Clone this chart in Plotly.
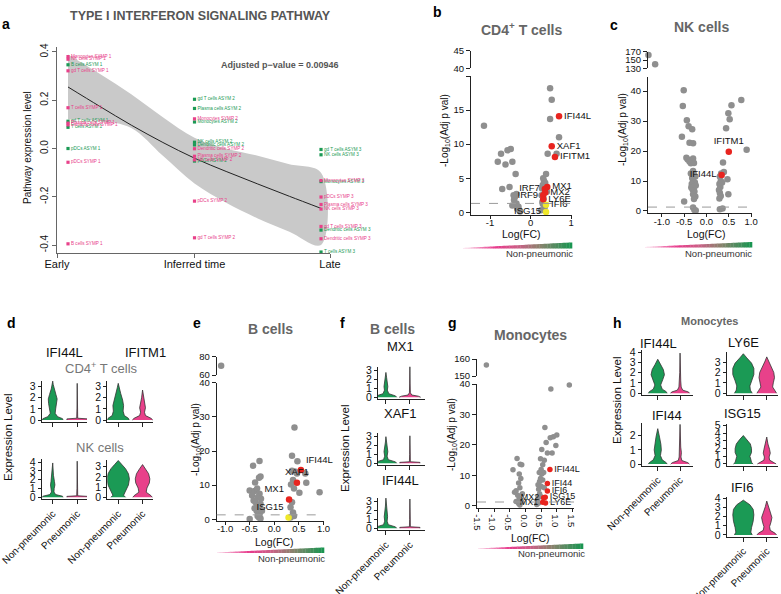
import plotly.graph_objects as go

W, H = 781, 594
GREEN = "#1b9a55"
PINK = "#e8418a"
GRAY_PT = "#8f8f8f"
RED_PT = "#e8241f"
YEL_PT = "#efe82a"
TITLE_GRAY = "#666666"
FONT = "Liberation Sans, Arial, Helvetica, sans-serif"

# ---------------- panel a data ----------------
a_time_ticks = ["Early", "Inferred time", "Late"]
a_asym_cells = ["Dendritic cells ASYM 1", "Monocytes ASYM 1", "NK cells ASYM 1", "Plasma cells ASYM 1",
                "B cells ASYM 1", "gd T cells ASYM 1", "T cells ASYM 1", "pDCs ASYM 1",
                "gd T cells ASYM 2", "Plasma cells ASYM 2", "Monocytes ASYM 2", "NK cells ASYM 2",
                "Dendritic cells ASYM 2", "pDCs ASYM 2", "B cells ASYM 2", "T cells ASYM 2",
                "gd T cells ASYM 3", "NK cells ASYM 3", "Monocytes ASYM 3", "Dendritic cells ASYM 3",
                "T cells ASYM 3", "B cells ASYM 3"]
a_asym_time = [1, 1, 1, 1, 1, 1, 1, 1, 2, 2, 2, 2, 2, 2, 2, 2, 3, 3, 3, 3, 3, 3]
a_asym_value = [0.598, 0.468, 0.454, 0.425, 0.347, 0.113, 0.088, 0.0,
                0.204, 0.166, 0.11, 0.026, 0.015, -0.052, -0.502, -0.547,
                -0.004, -0.026, -0.137, -0.338, -0.429, -0.534]
a_symp_cells = ["Monocytes SYMP 1", "NK cells SYMP 1", "gd T cells SYMP 1", "T cells SYMP 1",
                "Plasma cells SYMP 1", "Dendritic cells SYMP 1", "pDCs SYMP 1", "B cells SYMP 1",
                "Monocytes SYMP 2", "Dendritic cells SYMP 2", "Plasma cells SYMP 2", "NK cells SYMP 2",
                "pDCs SYMP 2", "gd T cells SYMP 2", "T cells SYMP 2", "B cells SYMP 2",
                "Monocytes SYMP 3", "pDCs SYMP 3", "Plasma cells SYMP 3", "NK cells SYMP 3",
                "gd T cells SYMP 3", "Dendritic cells SYMP 3", "T cells SYMP 3", "B cells SYMP 3"]
a_symp_time = [1, 1, 1, 1, 1, 1, 1, 1, 2, 2, 2, 2, 2, 2, 2, 2, 3, 3, 3, 3, 3, 3, 3, 3]
a_symp_value = [0.381, 0.37, 0.322, 0.169, 0.105, 0.098, -0.057, -0.395,
                0.123, -0.001, -0.032, -0.047, -0.218, -0.37, -0.585, -0.617,
                -0.133, -0.201, -0.232, -0.251, -0.323, -0.374, -0.508, -0.638]
fit_time = [1, 1.25, 1.5, 1.75, 2, 2.25, 2.5, 2.75, 3]
fit_mean = [0.255, 0.175, 0.097, 0.025, -0.04, -0.095, -0.147, -0.198, -0.248]
fit_upper = [0.39, 0.31, 0.225, 0.13, 0.045, 0.0, -0.03, -0.065, -0.10]
fit_lower = [0.12, 0.115, 0.085, -0.03, -0.145, -0.225, -0.29, -0.345, -0.40]
a_pvalue_text = "Adjusted p\u2212value = 0.00946"

# ---------------- panel b (CD4+ T cells) ----------------
b_gray_fc = [0.48, 0.52, 0.48, 0.70, 0.64, 0.42, -1.15, -0.49, -0.57, -0.73, -0.81, -0.45, -0.62, -0.37,
             -0.70, -0.52, -0.35, -0.39, -0.41, -0.35, -0.30, -0.28, -0.26, 0.38, 0.31, 0.33, 0.36, 0.30,
             0.28, 0.40, 0.27, 0.32, 0.29, 0.35, -0.45, -0.42, -0.33, 0.26, 0.30]
b_gray_p = [18.2, 16.5, 13.7, 11.0, 8.6, 8.6, 12.7, 9.3, 9.1, 8.6, 7.4, 7.4, 7.0, 5.6,
            3.4, 3.7, 2.7, 2.2, 1.8, 1.3, 0.8, 0.3, 0.1, 5.6, 5.0, 4.6, 4.3, 4.0,
            3.5, 3.0, 2.5, 2.0, 1.5, 0.8, 1.0, 2.5, 0.5, 0.3, 1.2]
b_top_fc = [-1.52]
b_top_p = [43.8]
b_red_genes = ["IFI44L", "XAF1", "IFITM1", "MX1", "IRF7", "MX2", "IRF9", "LY6E"]
b_red_fc = [0.70, 0.52, 0.60, 0.41, 0.35, 0.36, 0.31, 0.31]
b_red_p = [14.1, 9.7, 8.1, 3.7, 3.4, 2.9, 2.5, 1.9]
b_red_pos = ["middle right", "middle right", "middle right", "middle right", "middle left",
             "middle right", "middle left", "middle right"]
b_yel_genes = ["IFI6", "ISG15"]
b_yel_fc = [0.38, 0.38]
b_yel_p = [1.1, 0.05]
b_yel_pos = ["middle right", "middle left"]

# ---------------- panel c (NK cells) ----------------
c_gray_fc = [-0.51, -0.53, -0.44, -0.40, -0.32, -0.55, -0.38, -0.30, -0.45, -0.42, -0.38, -0.33, -0.30,
             -0.35, -0.28, -0.30, -0.28, -0.32, -0.30, -0.26, -0.33, -0.28, -0.31, -0.27, -0.30, -0.25,
             -0.28, -0.50, -0.30, -0.27, -0.24, -0.35, -0.25, -0.34, -0.24,
             0.78, 0.56, 0.49, 0.52, 0.44, 0.90, 0.37, 0.39, 0.47, 0.49, 0.30, 0.36, 0.30, 0.32, 0.29,
             0.31, 0.28, 0.30, 0.32, 0.29, 0.33, 0.35]
c_gray_p = [40.3, 35.0, 30.3, 28.3, 27.3, 24.8, 22.8, 22.6, 17.8, 17.2, 16.5, 16.8, 17.5,
            15.9, 16.0, 13.3, 12.2, 11.0, 10.0, 9.5, 9.0, 8.0, 7.2, 6.5, 5.6, 4.8,
            4.0, 3.2, 1.2, 0.3, 0.2, 12.5, 11.5, 7.8, 8.5,
            37.0, 35.3, 32.6, 30.6, 27.6, 20.4, 16.2, 13.0, 10.6, 5.6, 0.6, 0.8, 11.5, 10.0, 9.0,
            8.0, 7.0, 6.0, 5.0, 4.2, 12.5, 9.5]
c_top_fc = [-1.30, -1.15]
c_top_p = [162, 140]
c_red_genes = ["IFITM1", "IFI44L"]
c_red_fc = [0.50, 0.34]
c_red_p = [19.8, 12.0]
c_red_pos = ["top center", "middle left"]

# ---------------- panel e (B cells) ----------------
e_gray_fc = [0.41, 0.36, 0.47, 0.36, 0.42, 0.46, 0.63, 0.65, 0.51, 0.92, 0.38, 0.34, 0.40, 0.36, 0.33,
             0.38, 0.40, 0.33, -0.30, -0.43, -0.28, -0.31, -0.39, -0.50, -0.40, -0.35, -0.45, -0.30,
             -0.33, -0.42, -0.38, -0.28, -0.35, -0.32, -0.30, -0.36, -0.33, -0.30, -0.34, -0.31, -0.28,
             -0.50, -0.40, -0.27, -0.25]
e_gray_p = [26.9, 18.6, 17.0, 14.2, 14.0, 13.4, 13.4, 10.7, 7.8, 7.9, 11.5, 10.2, 9.0, 5.0, 3.5,
            2.0, 1.0, 0.5, 17.1, 15.7, 12.5, 12.2, 10.8, 8.4, 8.3, 9.0, 7.0, 7.5,
            6.5, 5.5, 5.0, 4.5, 4.0, 3.5, 3.0, 2.5, 2.0, 1.5, 1.0, 0.5, 0.2,
            0.1, 3.2, 6.0, 2.5]
e_top_fc = [-1.08]
e_top_p = [70]
e_red_genes = ["IFI44L", "XAF1", "MX1"]
e_red_fc = [0.54, 0.46, 0.30]
e_red_p = [14.4, 10.7, 5.8]
e_red_pos = ["top right", "top center", "top left"]
e_yel_genes = ["ISG15"]
e_yel_fc = [0.29]
e_yel_p = [0.5]
e_yel_pos = ["top left"]

# ---------------- panel g (Monocytes) ----------------
g_gray_fc = [1.40, 0.81, 0.62, 1.0, 0.89, 0.79, 0.66, 0.97, 0.70, 0.85, 0.6, 0.55, 0.5, 0.52, 0.48, 0.45,
             0.5, 0.42, 0.45, 0.4, 0.38, 0.42, 0.36, 0.58, 0.55, 0.6, 0.52, 0.48, 0.44, 0.5, 0.4,
             -0.27, -0.17, -0.12, -0.40, -0.2, -0.15, -0.22, -0.18, -0.3, -0.35, -0.25, -0.2, -0.15,
             -0.3, -0.22, -0.18, -0.1, -0.12]
g_gray_p = [39.7, 38.4, 25.7, 23.3, 22.7, 22.4, 20.8, 19.8, 17.4, 17.4, 15.0, 13.5, 12.0, 10.5, 9.0, 8.0,
            6.5, 5.5, 4.0, 3.0, 2.0, 1.0, 0.5, 11.0, 8.5, 6.0, 18.5, 15.5, 11.0, 3.0, 7.0,
            15.6, 13.7, 13.5, 11.9, 10.5, 9.0, 7.5, 6.0, 5.0, 4.5, 3.5, 2.5, 2.0,
            1.5, 0.8, 0.3, 4.0, 1.2]
g_top_fc = [-1.25]
g_top_p = [156.5]
g_red_genes = ["IFI44L", "IFI44", "IFI6", "ISG15", "MX2", "MX1", "LY6E"]
g_red_fc = [0.78, 0.70, 0.70, 0.63, 0.58, 0.55, 0.64]
g_red_p = [12.0, 7.4, 4.9, 2.9, 2.7, 1.2, 1.0]
g_red_pos = ["middle right", "middle right", "middle right", "middle right", "middle left",
             "middle left", "middle right"]

# ---------------- violin profiles: (expression level, half width) ----------------
groups = ["Non-pneumonic", "Pneumonic"]
thin_p33 = [(0, 0.42), (0.1, 0.42), (0.16, 0.02), (1.0, 0.01), (3.3, 0)]
thin_p41 = [(0, 0.42), (0.1, 0.42), (0.16, 0.02), (1.0, 0.01), (4.1, 0)]
d_cd4_ifi44l = [[(0, 0.42), (0.12, 0.4), (0.3, 0.2), (0.6, 0.1), (1.0, 0.12), (1.5, 0.17), (1.9, 0.18),
                 (2.3, 0.13), (2.8, 0.06), (3.2, 0.02), (3.5, 0)], thin_p33]
d_cd4_ifitm1 = [[(0, 0.45), (0.15, 0.42), (0.4, 0.25), (0.8, 0.2), (1.3, 0.22), (1.8, 0.18), (2.4, 0.1),
                 (2.9, 0.04), (3.3, 0)],
                [(0, 0.42), (0.15, 0.35), (0.4, 0.12), (0.7, 0.08), (1.1, 0.12), (1.5, 0.09), (2.0, 0.04),
                 (2.7, 0)]]
d_nk_ifi44l = [[(0, 0.42), (0.12, 0.4), (0.3, 0.12), (0.6, 0.05), (1.0, 0.06), (1.4, 0.09), (1.8, 0.07),
                (2.5, 0.03), (3.9, 0)], thin_p41]
d_nk_ifitm1 = [[(0, 0.3), (0.2, 0.22), (0.6, 0.3), (1.2, 0.42), (1.8, 0.46), (2.3, 0.42), (2.8, 0.3),
                (3.2, 0.15), (3.6, 0)],
               [(0, 0.4), (0.15, 0.35), (0.5, 0.15), (0.9, 0.18), (1.4, 0.28), (1.8, 0.3), (2.3, 0.25),
                (2.8, 0.12), (3.2, 0)]]
f_mx1 = [[(0, 0.45), (0.15, 0.4), (0.4, 0.12), (0.8, 0.06), (1.2, 0.08), (1.6, 0.07), (2.2, 0.03), (2.8, 0)],
         [(0, 0.45), (0.12, 0.35), (0.25, 0.08), (0.5, 0.02), (1.5, 0.01), (3.5, 0)]]
f_xaf1 = [[(0, 0.45), (0.15, 0.4), (0.4, 0.1), (0.8, 0.05), (1.3, 0.08), (1.8, 0.05), (2.4, 0.02), (3.0, 0)],
          [(0, 0.42), (0.1, 0.42), (0.16, 0.02), (1.0, 0.01), (3.1, 0)]]
f_ifi44l = [[(0, 0.45), (0.15, 0.4), (0.4, 0.1), (0.8, 0.05), (1.3, 0.07), (1.8, 0.06), (2.5, 0.02), (3.4, 0)],
            [(0, 0.42), (0.1, 0.42), (0.16, 0.02), (1.0, 0.01), (3.3, 0)]]
h_ifi44l = [[(0, 0.42), (0.15, 0.38), (0.4, 0.2), (0.8, 0.13), (1.3, 0.22), (1.8, 0.3), (2.3, 0.25),
             (2.8, 0.12), (3.3, 0)],
            [(0, 0.42), (0.12, 0.38), (0.3, 0.12), (0.6, 0.05), (1.2, 0.03), (2.0, 0.015), (3.9, 0)]]
h_ifi44 = [[(0, 0.42), (0.1, 0.38), (0.3, 0.2), (0.6, 0.12), (1.0, 0.16), (1.4, 0.14), (1.9, 0.08), (2.5, 0)],
           [(0, 0.42), (0.1, 0.35), (0.25, 0.08), (0.5, 0.04), (0.8, 0.06), (1.2, 0.03), (2.8, 0)]]
h_ly6e = [[(0, 0.38), (0.3, 0.3), (0.7, 0.28), (1.2, 0.35), (1.8, 0.45), (2.4, 0.45), (2.9, 0.35),
           (3.4, 0.15), (3.8, 0)],
          [(0, 0.42), (0.25, 0.35), (0.6, 0.25), (1.0, 0.28), (1.5, 0.33), (2.0, 0.3), (2.6, 0.18),
           (3.1, 0.07), (3.5, 0)]]
h_isg15 = [[(0, 0.42), (0.2, 0.35), (0.6, 0.32), (1.0, 0.28), (1.5, 0.35), (2.0, 0.35), (2.6, 0.3),
            (3.2, 0.15), (3.7, 0)],
           [(0, 0.4), (0.2, 0.3), (0.5, 0.12), (0.9, 0.1), (1.4, 0.15), (1.9, 0.12), (2.6, 0.05), (3.5, 0)]]
h_ifi6 = [[(0, 0.38), (0.3, 0.32), (0.8, 0.35), (1.5, 0.42), (2.2, 0.45), (2.8, 0.42), (3.3, 0.28), (3.8, 0)],
          [(0, 0.42), (0.2, 0.35), (0.5, 0.15), (0.9, 0.12), (1.4, 0.18), (1.9, 0.22), (2.5, 0.15),
           (3.1, 0.06), (3.7, 0)]]

# =====================================================================
layout = dict(width=W, height=H, margin=dict(l=0, r=0, t=0, b=0, pad=0, autoexpand=False),
              paper_bgcolor="white", plot_bgcolor="rgba(0,0,0,0)", showlegend=False,
              font=dict(family=FONT, color="#111", size=10))
shapes, annotations, traces = [], [], []
_n = [0]


def add_axes(xpx, ypx, xr, yr, xkw=None, ykw=None):
    _n[0] += 1
    s = "" if _n[0] == 1 else str(_n[0])
    base = dict(showgrid=False, zeroline=False, showline=True, linecolor="#222", linewidth=1,
                ticks="outside", ticklen=4, tickcolor="#222", tickwidth=1, automargin=False,
                ticklabeloverflow="allow",
                tickfont=dict(size=9.5, color="#111", family=FONT), fixedrange=True)
    xa = dict(base, domain=[xpx[0] / W, xpx[1] / W], range=xr, anchor="y" + s)
    ya = dict(base, domain=[1 - ypx[1] / H, 1 - ypx[0] / H], range=yr, anchor="x" + s)
    if xkw:
        xa.update(xkw)
    if ykw:
        ya.update(ykw)
    layout["xaxis" + s] = xa
    layout["yaxis" + s] = ya
    return "x" + s, "y" + s


def text(x, y, s, size=10, color="#111", bold=False, angle=0, xanchor="center", yanchor="middle"):
    if bold:
        s = "<b>" + s + "</b>"
    annotations.append(dict(x=x / W, y=1 - y / H, xref="paper", yref="paper", text=s, showarrow=False,
                            font=dict(size=size, color=color, family=FONT), textangle=angle,
                            xanchor=xanchor, yanchor=yanchor))


# ---------------- panel a ----------------
xa, ya = add_axes((57, 330), (47, 253), [0.913, 3.071], [-0.433, 0.4207],
                  xkw=dict(tickvals=[0.913, 2.0, 3.071], ticktext=a_time_ticks, tickfont=dict(size=11),
                           linecolor="#666", tickcolor="#666", ticklabelstandoff=-3),
                  ykw=dict(tickvals=[-0.4, -0.2, 0, 0.2, 0.4], ticktext=["-0.4", "-0.2", "0.0", "0.2", "0.4"],
                           tickangle=-90, tickfont=dict(size=10), linecolor="#666", tickcolor="#666"))
traces.append(go.Scatter(x=fit_time + fit_time[::-1], y=fit_upper + fit_lower[::-1], xaxis=xa, yaxis=ya,
                         fill="toself", fillcolor="#c9c9c9", line=dict(width=0, shape="spline"),
                         mode="lines", hoverinfo="skip"))
traces.append(go.Scatter(x=fit_time, y=fit_mean, xaxis=xa, yaxis=ya, mode="lines",
                         line=dict(color="#222", width=1, shape="spline")))
traces.append(go.Scatter(x=a_asym_time, y=a_asym_value, text=a_asym_cells, xaxis=xa, yaxis=ya,
                         mode="markers+text", textposition="middle right", cliponaxis=False,
                         marker=dict(color=GREEN, size=3.2, symbol="square"),
                         textfont=dict(size=4.6, color=GREEN, family=FONT)))
traces.append(go.Scatter(x=a_symp_time, y=a_symp_value, text=a_symp_cells, xaxis=xa, yaxis=ya,
                         mode="markers+text", textposition="middle right", cliponaxis=False,
                         marker=dict(color=PINK, size=3.2, symbol="square"),
                         textfont=dict(size=4.6, color=PINK, family=FONT)))
text(0, 24, "a", 14, "#000", bold=True, xanchor="left")
text(68, 16, "TYPE I INTERFERON SIGNALING PATHWAY", 12.5, "#555", bold=True, xanchor="left")
text(280, 65, a_pvalue_text, 9, "#555", bold=True)
text(27, 148, "Pathway expression level", 10, "#111", angle=-90)


# ---------------- volcano helper ----------------
def gradient_bar(x0, x1, ybot, hmax):
    stops = [(0.0, (250, 215, 232)), (0.3, (232, 58, 140)), (0.5, (205, 95, 135)),
             (0.7, (140, 130, 110)), (1.0, (22, 150, 80))]
    n = 40
    for i in range(n):
        t = (i + 0.5) / n
        for j in range(len(stops) - 1):
            if stops[j][0] <= t <= stops[j + 1][0]:
                u = (t - stops[j][0]) / (stops[j + 1][0] - stops[j][0])
                c = tuple(int(stops[j][1][k] + u * (stops[j + 1][1][k] - stops[j][1][k])) for k in range(3))
                break
        xa0 = x0 + (x1 - x0) * i / n
        xa1 = x0 + (x1 - x0) * (i + 1) / n + 0.3
        h0 = 0.6 + hmax * i / n
        h1 = 0.6 + hmax * (i + 1) / n
        path = "M {:.5f},{:.5f} L {:.5f},{:.5f} L {:.5f},{:.5f} L {:.5f},{:.5f} Z".format(
            xa0 / W, 1 - ybot / H, xa1 / W, 1 - ybot / H, xa1 / W, 1 - (ybot - h1) / H, xa0 / W,
            1 - (ybot - h0) / H)
        shapes.append(dict(type="path", path=path, xref="paper", yref="paper", fillcolor="rgb(%d,%d,%d)" % c,
                           line=dict(width=0), layer="above"))


def volcano(xpx, low_px, up_px, xr, low_r, up_r, xt, low_t, up_t, gray, top, reds, yels, msize, lsize):
    xl, yl = add_axes(xpx, low_px, xr, low_r,
                      xkw=dict(tickvals=xt[0], ticktext=xt[1], ticklen=3, ticklabelstandoff=-4),
                      ykw=dict(tickvals=low_t[0], ticktext=low_t[1]))
    xu, yu = add_axes(xpx, up_px, xr, up_r, xkw=dict(visible=False),
                      ykw=dict(tickvals=up_t[0], ticktext=up_t[1]))
    shapes.append(dict(type="line", xref=xl + " domain", yref=yl, x0=0, x1=1, y0=1.3, y1=1.3,
                       line=dict(color="#9a9a9a", width=1, dash="dash")))
    traces.append(go.Scatter(x=gray[0], y=gray[1], xaxis=xl, yaxis=yl, mode="markers", cliponaxis=False,
                             marker=dict(color=GRAY_PT, size=msize)))
    traces.append(go.Scatter(x=top[0], y=top[1], xaxis=xu, yaxis=yu, mode="markers", cliponaxis=False,
                             marker=dict(color=GRAY_PT, size=msize)))
    for grp, col in ((yels, YEL_PT), (reds, RED_PT)):
        if grp is None:
            continue
        traces.append(go.Scatter(x=grp[1], y=grp[2], text=grp[0], textposition=grp[3], xaxis=xl, yaxis=yl,
                                 mode="markers+text", cliponaxis=False, marker=dict(color=col, size=msize),
                                 textfont=dict(size=lsize, color="#111", family=FONT)))
    return xl, yl


# ---------------- panel b ----------------
volcano((471, 572), (76, 215), (50.7, 68.3), [-1.47, 1.02], [-0.4, 20], [40, 45],
        ([-1, 0, 1], ["-1", "0", "1"]), ([0, 5, 10, 15, 20], ["0", "5", "10", "15", ""]),
        ([40, 45], ["40", "45"]),
        (b_gray_fc, b_gray_p), (b_top_fc, b_top_p),
        (b_red_genes, b_red_fc, b_red_p, b_red_pos), (b_yel_genes, b_yel_fc, b_yel_p, b_yel_pos), 6.5, 9.5)
text(437, 12, "b", 14, "#000", bold=True)
text(521, 29, "CD4<sup>+</sup> T cells", 14, TITLE_GRAY, bold=True)
text(445, 130, "-Log<sub>10</sub>(Adj p val)", 10, "#111", angle=-90)
text(521, 234, "Log(FC)", 10.5)
gradient_bar(463, 572, 248.5, 5.5)
text(575, 253, "Non-pneumonic", 9.5, "#333", xanchor="right")

# ---------------- panel c ----------------
volcano((648, 752), (76.7, 213.3), (51.7, 68.3), [-1.31, 1.02], [-0.77, 44.8], [130, 170],
        ([-1, -0.5, 0, 0.5, 1], ["-1.0", "-0.5", "0.0", "0.5", "1.0"]),
        ([0, 10, 20, 30, 40], ["0", "10", "20", "30", "40"]),
        ([130, 150, 170], ["130", "150", "170"]),
        (c_gray_fc, c_gray_p), (c_top_fc, c_top_p),
        (c_red_genes, c_red_fc, c_red_p, c_red_pos), None, 6.5, 9.5)
text(614, 25, "c", 14, "#000", bold=True)
text(701, 27, "NK cells", 14, TITLE_GRAY, bold=True)
text(623, 130, "-Log<sub>10</sub>(Adj p val)", 10, "#111", angle=-90)
text(706, 234, "Log(FC)", 10.5)
gradient_bar(645, 752, 247.5, 5)
text(754, 253, "Non-pneumonic", 9.5, "#333", xanchor="right")

# ---------------- panel e ----------------
volcano((216.7, 324), (382.7, 521), (356.7, 375), [-1.17, 1.01], [-0.5, 40], [60, 80],
        ([-1, -0.5, 0, 0.5, 1], ["-1.0", "-0.5", "0.0", "0.5", "1.0"]),
        ([0, 10, 20, 30, 40], ["0", "10", "20", "30", "40"]),
        ([60, 80], ["60", "80"]),
        (e_gray_fc, e_gray_p), (e_top_fc, e_top_p),
        (e_red_genes, e_red_fc, e_red_p, e_red_pos), (e_yel_genes, e_yel_fc, e_yel_p, e_yel_pos), 6.5, 9.5)
text(197, 323, "e", 14, "#000", bold=True)
text(270, 329, "B cells", 14, TITLE_GRAY, bold=True)
text(196, 440, "-Log<sub>10</sub>(Adj p val)", 10, "#111", angle=-90)
text(274, 542, "Log(FC)", 10.5)
gradient_bar(217, 324, 553, 5)
text(327, 558, "Non-pneumonic", 9.5, "#333", xanchor="right")

# ---------------- panel g ----------------
volcano((477, 574), (384, 507.5), (359, 376), [-1.55, 1.55], [-0.5, 40], [150, 160],
        ([-1.5, -1, -0.5, 0, 0.5, 1, 1.5], ["-1.5", "-1.0", "-0.5", "0.0", "0.5", "1.0", "1.5"]),
        ([0, 10, 20, 30, 40], ["0", "10", "20", "30", "40"]),
        ([150, 160], ["150", "160"]),
        (g_gray_fc, g_gray_p), (g_top_fc, g_top_p),
        (g_red_genes, g_red_fc, g_red_p, g_red_pos), None, 5.5, 9)
text(452, 323, "g", 14, "#000", bold=True)
text(530, 335, "Monocytes", 14, TITLE_GRAY, bold=True)
text(452, 435, "-Log<sub>10</sub>(Adj p val)", 10, "#111", angle=-90)
text(530, 538, "Log(FC)", 10.5)
gradient_bar(478, 583, 549, 5)
text(587, 553, "Non-pneumonic", 9.5, "#333", xanchor="right")


# ---------------- violin helper ----------------
def violin_panel(xpx, ypx, xr, yr, ticks, profiles, show_x=False):
    xkw = dict(tickvals=[0, 1], ticktext=groups, showticklabels=show_x, tickangle=-45,
               tickfont=dict(size=10))
    xv, yv = add_axes(xpx, ypx, xr, yr, xkw=xkw, ykw=dict(tickvals=ticks, ticktext=[str(t) for t in ticks],
                                                          tickfont=dict(size=10.5), ticklen=3))
    for i, (prof, col) in enumerate(zip(profiles, (GREEN, PINK))):
        ys = [p[0] for p in prof]
        ws = [p[1] for p in prof]
        xs = [i + w for w in ws] + [i - w for w in ws[::-1]]
        yy = ys + ys[::-1]
        traces.append(go.Scatter(x=xs, y=yy, xaxis=xv, yaxis=yv, mode="lines", fill="toself",
                                 fillcolor=col, line=dict(color="#333", width=0.8), hoverinfo="skip"))


# ---------------- panel d ----------------
violin_panel((41.7, 87), (380.7, 422), [-0.45, 1.4], [-0.18, 3.54], [0, 1, 2, 3], d_cd4_ifi44l)
violin_panel((107.3, 153), (380.7, 422), [-0.45, 1.43], [-0.18, 3.54], [0, 1, 2, 3], d_cd4_ifitm1)
violin_panel((41.7, 87), (459, 499), [-0.45, 1.4], [-0.2, 4.35], [0, 1, 2, 3, 4], d_nk_ifi44l, True)
violin_panel((107.3, 153), (460, 499), [-0.45, 1.43], [-0.17, 3.65], [0, 1, 2, 3], d_nk_ifitm1, True)
text(5, 323, "d", 14, "#000", bold=True, xanchor="left")
text(64, 352, "IFI44L", 13)
text(145, 352, "IFITM1", 13)
text(101, 368, "CD4<sup>+</sup> T cells", 13, "#777")
text(100, 447, "NK cells", 13, "#777")
text(8, 437, "Expression Level", 11.5, angle=-90)

# ---------------- panel f ----------------
violin_panel((378, 425), (366.7, 399), [-0.33, 1.63], [-0.2, 3.45], [0, 1, 2, 3], f_mx1)
violin_panel((378, 425), (432.7, 465), [-0.33, 1.63], [-0.2, 3.45], [0, 1, 2, 3], f_xaf1)
violin_panel((378, 425), (497.7, 530), [-0.33, 1.63], [-0.2, 3.45], [0, 1, 2, 3], f_ifi44l, True)
text(342, 323, "f", 14, "#000", bold=True)
text(392, 329, "B cells", 14, TITLE_GRAY, bold=True)
text(400, 347, "MX1", 13)
text(400, 413, "XAF1", 13)
text(400, 480, "IFI44L", 13)
text(345, 448, "Expression Level", 11.5, angle=-90)

# ---------------- panel h ----------------
violin_panel((641.7, 693), (350, 395), [-0.72, 1.58], [-0.17, 4.2], [0, 1, 2, 3, 4], h_ifi44l)
violin_panel((641.7, 693), (423.3, 465.5), [-0.72, 1.58], [-0.1, 2.88], [0, 1, 2], h_ifi44, True)
violin_panel((726.7, 778), (352, 395), [-0.71, 1.48], [-0.17, 3.97], [0, 1, 2, 3], h_ly6e)
violin_panel((726.7, 778), (424, 465.5), [-0.71, 1.48], [-0.2, 5.2], [0, 1, 2, 3, 4, 5], h_isg15)
violin_panel((726.7, 778), (496.7, 536.5), [-0.71, 1.48], [-0.17, 4.18], [0, 1, 2, 3, 4], h_ifi6, True)
text(617, 323, "h", 14, "#000", bold=True)
text(709, 321, "Monocytes", 11, TITLE_GRAY, bold=True)
text(658, 343, "IFI44L", 13)
text(743, 342, "LY6E", 13)
text(667, 415, "IFI44", 13)
text(742, 413, "ISG15", 13)
text(742, 487, "IFI6", 13)
text(617, 400, "Expression Level", 11.5, angle=-90)

layout["shapes"] = shapes
layout["annotations"] = annotations
fig = go.Figure(data=traces, layout=layout)
fig.write_html("out.html", config={"displayModeBar": False},
               post_script="document.body.style.margin='0px';document.body.style.padding='0px';")
